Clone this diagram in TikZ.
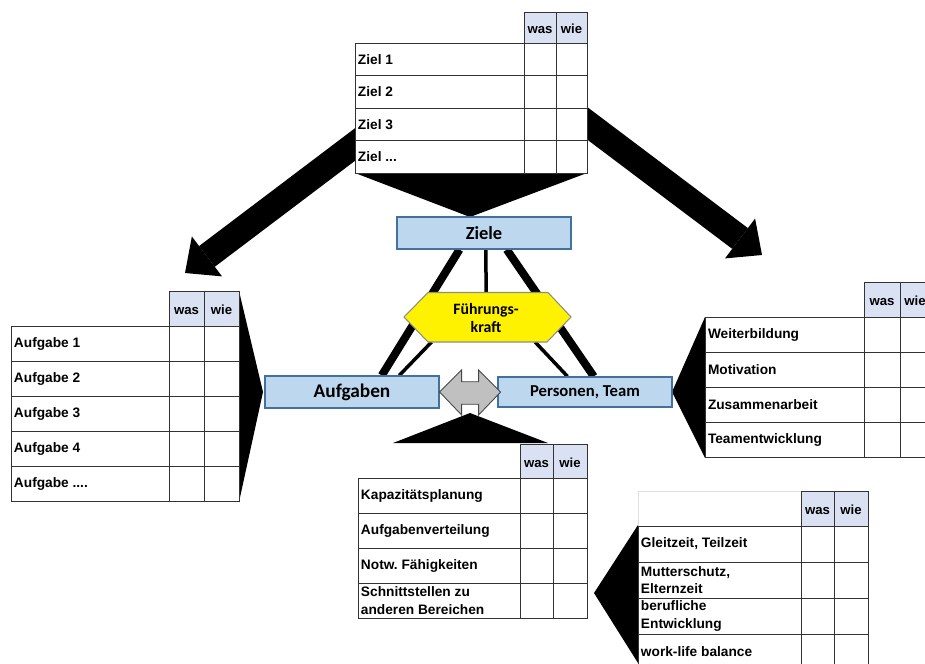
\documentclass[tikz,border=0pt]{standalone}
\usepackage{fontspec}
\setmainfont{Liberation Sans}
\newfontfamily\calibrifont{Carlito}
\usetikzlibrary{arrows.meta,calc}
\frenchspacing

\definecolor{boxblue}{HTML}{BDD7EE}
\definecolor{boxline}{HTML}{41719C}
\definecolor{headblue}{HTML}{D9E1F2}
\definecolor{tabline}{HTML}{333333}
\definecolor{hexline}{HTML}{8C8C8C}
\definecolor{arrowgray}{HTML}{C0C0C0}
\newcommand{\tabdots}{...}

\begin{document}
\begin{tikzpicture}[
    x=0.02cm, y=-0.02cm,
    tabcell/.style={draw=tabline, fill=white, line width=0.5pt},
    headcell/.style={draw=tabline, fill=headblue, line width=0.5pt},
    celltext/.style={anchor=west, font=\fontsize{7.8}{9.8}\selectfont\bfseries, inner sep=1.5pt, align=left},
    headtext/.style={font=\fontsize{7.5}{9}\selectfont\bfseries, inner sep=0pt, text height=1.5ex, text depth=0.2ex},
    centerbox/.style={draw=boxline, fill=boxblue, line width=0.7pt, minimum width=3.48cm, inner sep=0pt},
    hexshape/.style={draw=hexline, fill=yellow, line width=0.6pt},
    grayarrow/.style={draw=gray!55!black, fill=arrowgray, line width=0.5pt},
    funnel/.style={fill=black},
    bigarrow/.style={line width=0.52cm, -{Triangle[width=1.0cm,length=0.55cm,line width=0pt]}},
    strongline/.style={line width=0.16cm},
    weakline/.style={line width=0.07cm}
]
\useasboundingbox (0,0) rectangle (925,663);
\clip (0,0) rectangle (925,663);

% big arrows from the goal table
\coordinate (startL) at (400,110.5);
\coordinate (tipL) at (185,273);
\coordinate (startR) at (545,91.5);
\coordinate (tipR) at (762,255);
\draw[bigarrow] (startL) -- (tipL);
\draw[bigarrow] (startR) -- (tipR);

% funnels
\fill[funnel] (355,173) -- (587,173) -- (470,217) -- cycle;
\fill[funnel] (239,291) -- (239,502) -- (263,392) -- cycle;
\fill[funnel] (705,317) -- (705,458) -- (672,392) -- cycle;
\fill[funnel] (393,443) -- (548,443) -- (470,413) -- cycle;
\fill[funnel] (638,525) -- (638,663) -- (594,593) -- cycle;

% table: Ziele (top)
\draw[headcell] (524,12) rectangle (556,43) (556,12) rectangle (587,43);
\node[headtext] (zwas) at (540,27.5) {was};
\node[headtext] (zwie) at (571.5,27.5) {wie};
\foreach \txt [count=\i from 0] in {Ziel 1,Ziel 2,Ziel 3,Ziel \tabdots}{
  \draw[tabcell] (355,{43+32.5*\i}) rectangle ++(169,32.5) rectangle ++(32,-32.5) rectangle ++(31,32.5);
  \node[celltext] (ziel\i) at (355,{59.25+32.5*\i}) {\txt};
}

% table: Aufgaben (left)
\draw[headcell] (169,291) rectangle (204,326) (204,291) rectangle (239,326);
\node[headtext] (awas) at (186.5,308.5) {was};
\node[headtext] (awie) at (221.5,308.5) {wie};
\foreach \txt [count=\i from 0] in {Aufgabe 1,Aufgabe 2,Aufgabe 3,Aufgabe 4,Aufgabe \tabdots.}{
  \draw[tabcell] (11,{326+35.1*\i}) rectangle ++(158,35.1) rectangle ++(35,-35.1) rectangle ++(35,35.1);
  \node[celltext] (aufg\i) at (11,{343.5+35.1*\i}) {\txt};
}

% table: Personen (right)
\draw[headcell] (864,282) rectangle (900,317) (900,282) rectangle (936,317);
\node[headtext] (pwas) at (882,299.5) {was};
\node[headtext] (pwie) at (915,299.5) {wie};
\foreach \txt [count=\i from 0] in {Weiterbildung,Motivation,Zusammenarbeit,Teamentwicklung}{
  \draw[tabcell] (705,{317+35.2*\i}) rectangle ++(159,35.2) rectangle ++(36,-35.2) rectangle ++(36,35.2);
  \node[celltext] (pers\i) at (705,{334.6+35.2*\i}) {\txt};
}

% table: Aufgaben-Details (bottom)
\draw[headcell] (520,444) rectangle (553,478) (553,444) rectangle (587,478);
\node[headtext] (bwas) at (536.5,461) {was};
\node[headtext] (bwie) at (570,461) {wie};
\foreach \txt [count=\i from 0] in {Kapazitätsplanung,Aufgabenverteilung,{Notw. Fähigkeiten},{Schnittstellen zu\\anderen Bereichen}}{
  \draw[tabcell] (358,{478+35*\i}) rectangle ++(162,35) rectangle ++(33,-35) rectangle ++(34,35);
  \node[celltext] (det\i) at (358,{495.5+35*\i}) {\txt};
}

% table: Personen-Details (bottom right)
\draw[draw=gray!25, fill=white, line width=0.5pt] (638,526) |- (801,491) -- (801,526);
\draw[headcell] (801,491) rectangle (834,526) (834,491) rectangle (868,526);
\node[headtext] (rwas) at (817.5,508.5) {was};
\node[headtext] (rwie) at (851,508.5) {wie};
\foreach \txt [count=\i from 0] in {{Gleitzeit, Teilzeit},{Mutterschutz,\\Elternzeit},{berufliche\\Entwicklung},{work-life balance}}{
  \draw[tabcell] (638,{526+36*\i}) rectangle ++(163,36) rectangle ++(33,-36) rectangle ++(34,36);
  \node[celltext] (rest\i) at (638,{544+36*\i}) {\txt};
}

% centre boxes
\node[centerbox, minimum height=0.64cm, font=\calibrifont\bfseries\fontsize{10.5}{12}\selectfont] (ziele) at (484,233) {Ziele};
\node[centerbox, minimum height=0.64cm, font=\calibrifont\bfseries\fontsize{11}{13}\selectfont] (aufgaben) at (352,392) {Aufgaben};
\node[centerbox, minimum height=0.6cm, font=\calibrifont\bfseries\fontsize{9.5}{11}\selectfont] (personen) at (585,392) {Personen, Team};

% hexagon corners
\coordinate (hexW) at (404,317);
\coordinate (hexNW) at (428,292.5);
\coordinate (hexNE) at (548,292.5);
\coordinate (hexE) at (571,317);
\coordinate (hexSE) at (547,342);
\coordinate (hexSW) at (428,342);

% lines between the three corners
\draw[strongline] ($(ziele.south west)!0.36!(ziele.south east)$) -- ($(aufgaben.north west)!0.67!(aufgaben.north east)$);
\draw[strongline] ($(ziele.south west)!0.63!(ziele.south east)$) -- ($(personen.north west)!0.55!(personen.north east)$);
\draw[weakline] ($(ziele.south west)!0.51!(ziele.south east)$) -- ($(hexNW)!0.485!(hexNE)$);
\draw[weakline] ($(hexSW)!0.03!(hexSE)$) -- ($(aufgaben.north west)!0.77!(aufgaben.north east)$);
\draw[weakline] ($(hexSW)!0.9!(hexSE)$) -- ($(personen.north west)!0.40!(personen.north east)$);

% redraw boxes over line ends
\node[centerbox, minimum height=0.64cm, font=\calibrifont\bfseries\fontsize{10.5}{12}\selectfont] at (ziele) {Ziele};
\node[centerbox, minimum height=0.64cm, font=\calibrifont\bfseries\fontsize{11}{13}\selectfont] at (aufgaben) {Aufgaben};
\node[centerbox, minimum height=0.6cm, font=\calibrifont\bfseries\fontsize{9.5}{11}\selectfont] at (personen) {Personen, Team};

% Fuehrungskraft
\filldraw[hexshape] (hexW) -- (hexNW) -- (hexNE) -- (hexE) -- (hexSE) -- (hexSW) -- cycle;
\node[font=\calibrifont\bfseries\fontsize{9}{10.8}\selectfont, align=center] (fk) at (486,318) {Führungs-\\kraft};

% double arrow between Aufgaben and Personen
\filldraw[grayarrow] (aufgaben.east) -- ++(22,-22) -- ++(0,11.7) -- ++(17,0) -- ++(0,-11.7)
  -- ++(22,22) -- ++(-22,23) -- ++(0,-10.7) -- ++(-17,0) -- ++(0,10.7) -- cycle;

\end{tikzpicture}
\end{document}
